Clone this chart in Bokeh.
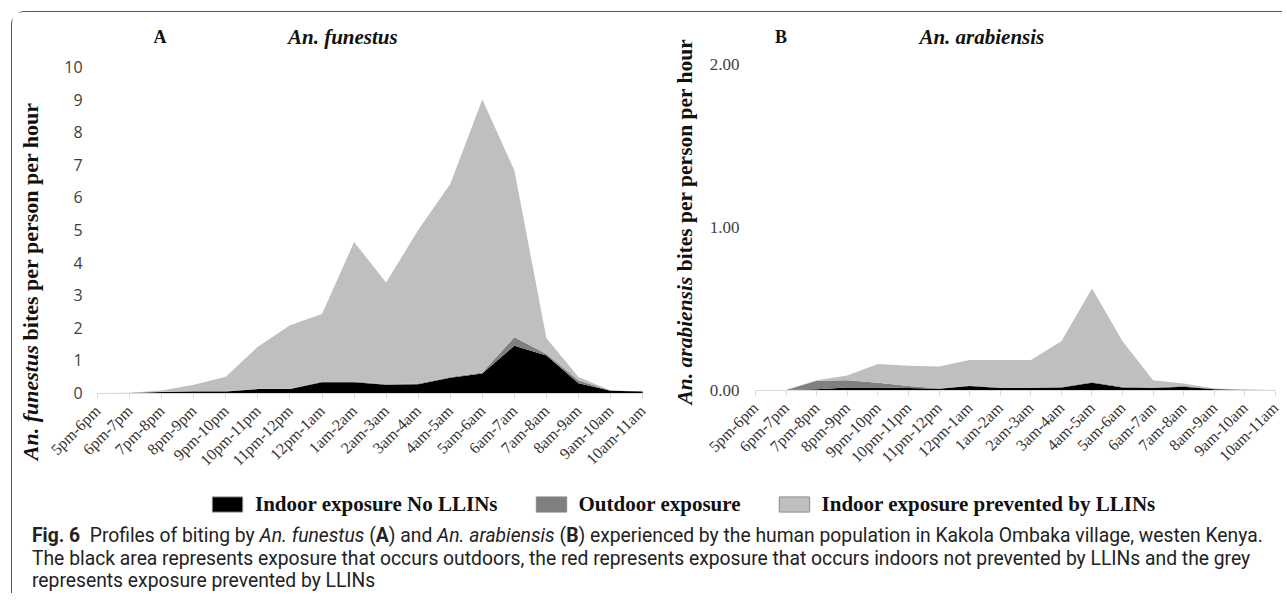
import math
from bokeh.plotting import figure
from bokeh.models import (ColumnDataSource, Range1d, FixedTicker, Legend, LegendItem, Div)
from bokeh.core.properties import value
from bokeh.layouts import row, column
from bokeh.embed import file_html
from bokeh.resources import INLINE

# ---------------- data ----------------
hours = ["5pm-6pm", "6pm-7pm", "7pm-8pm", "8pm-9pm", "9pm-10pm", "10pm-11pm",
         "11pm-12pm", "12pm-1am", "1am-2am", "2am-3am", "3am-4am", "4am-5am",
         "5am-6am", "6am-7am", "7am-8am", "8am-9am", "9am-10am", "10am-11am"]

series_names = ["Indoor exposure No LLINs", "Outdoor exposure",
                "Indoor exposure prevented by LLINs"]
series_colors = ["#000000", "#7f7f7f", "#bfbfbf"]

# An. funestus (panel A), bites per person per hour
funestus_indoor_no_llin = [0, 0, 0.03, 0.05, 0.05, 0.12, 0.12, 0.33, 0.33, 0.25,
                           0.27, 0.47, 0.60, 1.45, 1.15, 0.30, 0.07, 0.05]
funestus_outdoor = [0, 0, 0.01, 0.01, 0.01, 0.01, 0.01, 0.02, 0.02, 0.02,
                    0.02, 0.02, 0.03, 0.26, 0.05, 0.08, 0.01, 0.0]
funestus_prevented = [0, 0.01, 0.04, 0.19, 0.44, 1.29, 1.95, 2.07, 4.28, 3.12,
                      4.71, 5.92, 8.37, 5.12, 0.48, 0.11, 0.0, 0.0]

# An. arabiensis (panel B), bites per person per hour
arabiensis_indoor_no_llin = [0, 0, 0.005, 0.015, 0.015, 0.012, 0.008, 0.025, 0.012,
                             0.012, 0.015, 0.045, 0.015, 0.012, 0.02, 0.005, 0, 0]
arabiensis_outdoor = [0, 0, 0.052, 0.045, 0.03, 0.013, 0.002, 0.003, 0.003,
                      0.003, 0.003, 0.005, 0.005, 0.003, 0.005, 0.003, 0, 0]
arabiensis_prevented = [0, 0, 0.003, 0.03, 0.115, 0.125, 0.135, 0.157, 0.17,
                        0.17, 0.282, 0.575, 0.28, 0.045, 0.015, 0.002, 0.004, 0]

funestus_ticks = [0, 1, 2, 3, 4, 5, 6, 7, 8, 9, 10]
arabiensis_ticks = [0.0, 1.0, 2.0]
arabiensis_tick_labels = ["0.00", "1.00", "2.00"]

SERIF = "Liberation Serif"
AXIS_GREY = "#d9d9d9"
TEXT_DARK = "#333333"
TITLE_COL = "#111111"
H = 476  # height of the chart row


def base_fig(width, xr, yr, ymax_tick):
    # the frame covers the whole figure; axes are pinned at x=0 / y=0 inside it
    p = figure(width=width, height=H, output_backend="svg", toolbar_location=None,
               x_range=Range1d(*xr), y_range=Range1d(*yr), min_border=0)
    p.outline_line_color = None
    p.grid.visible = False
    p.background_fill_color = "white"
    p.border_fill_color = "white"
    ax = p.xaxis[0]
    ax.fixed_location = 0
    ax.bounds = (0, len(hours) - 1)
    ax.ticker = FixedTicker(ticks=list(range(len(hours))))
    ax.major_label_overrides = {i: h for i, h in enumerate(hours)}
    ax.major_label_orientation = math.pi / 4
    ax.axis_line_color = AXIS_GREY
    ax.major_tick_line_color = AXIS_GREY
    ax.major_tick_out = 5
    ax.major_tick_in = 0
    ax.minor_tick_line_color = None
    ax.major_label_text_font = SERIF
    ax.major_label_text_font_size = "16px"
    ax.major_label_text_color = TEXT_DARK
    ax.major_label_standoff = 10
    ay = p.yaxis[0]
    ay.fixed_location = 0
    ay.bounds = (0, ymax_tick)
    ay.axis_line_color = None
    ay.major_tick_line_color = None
    ay.minor_tick_line_color = None
    ay.major_tick_out = 0
    ay.major_tick_in = 0
    return p


def add_stack(p, a, b, c):
    src = ColumnDataSource(dict(x=list(range(len(hours))), s0=a, s1=b, s2=c))
    p.varea_stack(stackers=["s0", "s1", "s2"], x="x", color=series_colors, source=src)


def add_titles(p, xl, xt, y, letter, species):
    p.text(x=[xl], y=[y], text=[letter], text_align="center", text_baseline="middle",
           text_font=value(SERIF), text_font_size="18px", text_font_style=value("bold"),
           text_color=TITLE_COL)
    p.text(x=[xt], y=[y], text=[species], text_align="center", text_baseline="middle",
           text_font=value(SERIF), text_font_size="21px", text_font_style=value("bold italic"),
           text_color=TITLE_COL)


def add_ytitle(p, xc, y_species, y_rest, species, size):
    p.text(x=[xc], y=[y_species], text=[species], angle=math.pi / 2, text_align="center",
           text_baseline="middle", text_font=value(SERIF), text_font_size=size,
           text_font_style=value("bold italic"), text_color=TITLE_COL)
    p.text(x=[xc], y=[y_rest], text=["bites per person per hour"], angle=math.pi / 2,
           text_align="center", text_baseline="middle", text_font=value(SERIF),
           text_font_size=size, text_font_style=value("bold"), text_color=TITLE_COL)


# ---------------- panel A ----------------
pA = base_fig(648, (-2.654, 17.558), (-2.929, 11.672), 10)
pA.yaxis[0].ticker = FixedTicker(ticks=funestus_ticks)
pA.yaxis[0].major_label_text_font = "Open Sans"
pA.yaxis[0].major_label_text_font_size = "16px"
pA.yaxis[0].major_label_text_color = "#404040"
pA.yaxis[0].major_label_standoff = 15
add_stack(pA, funestus_indoor_no_llin, funestus_outdoor, funestus_prevented)
add_titles(pA, 1.95, 7.65, 10.92, "A", "An. funestus")
add_ytitle(pA, -2.108, -0.298, 5.268, "An. funestus", "22px")

# ---------------- panel B ----------------
pB = base_fig(622, (-3.106, 17.229), (-0.606, 2.323), 2)
pB.yaxis[0].ticker = FixedTicker(ticks=arabiensis_ticks)
pB.yaxis[0].major_label_overrides = {v: s for v, s in zip(arabiensis_ticks, arabiensis_tick_labels)}
pB.yaxis[0].major_label_text_font = SERIF
pB.yaxis[0].major_label_text_font_size = "17px"
pB.yaxis[0].major_label_text_color = "#404040"
pB.yaxis[0].major_label_standoff = 16
add_stack(pB, arabiensis_indoor_no_llin, arabiensis_outdoor, arabiensis_prevented)
add_titles(pB, 0.83, 7.40, 2.172, "B", "An. arabiensis")
add_ytitle(pB, -2.305, 0.304, 1.447, "An. arabiensis", "21.5px")

# ---------------- legend ----------------
pL = figure(width=1270, height=32, output_backend="svg", toolbar_location=None,
            x_range=Range1d(0, 1), y_range=Range1d(0, 1), min_border=0)
pL.axis.visible = False
pL.grid.visible = False
pL.outline_line_color = None
items = []
for name, col in zip(series_names, series_colors):
    # legend swatch proxy, placed outside the visible range of this strip
    r = pL.rect(x=[-5], y=[-5], width=0.1, height=0.1, fill_color=col,
                line_color="#8c8c8c", line_width=1)
    items.append(LegendItem(label=name, renderers=[r]))
leg = Legend(items=items, orientation="horizontal", location="center_left",
             label_text_font=SERIF, label_text_font_size="21px", label_text_font_style="bold",
             label_text_color=TITLE_COL, glyph_width=38, glyph_height=19, spacing=34,
             label_standoff=9, border_line_color=None, background_fill_alpha=0,
             padding=0, margin=196)
pL.add_layout(leg, "center")

# ---------------- caption ----------------
caption = Div(
    text=("<b>Fig. 6</b>&nbsp; Profiles of biting by <i>An. funestus</i> (<b>A</b>) and "
          "<i>An. arabiensis</i> (<b>B</b>) experienced by the human population in Kakola "
          "Ombaka village, westen Kenya.<br>"
          "The black area represents exposure that occurs outdoors, the red represents exposure "
          "that occurs indoors not prevented by LLINs and the grey<br>"
          "represents exposure prevented by LLINs"),
    width=1245, margin=(5, 0, 0, 20),
    styles={"font-family": "'Roboto', 'Open Sans', sans-serif",
            "font-size": "19.3px", "line-height": "22.5px", "color": "#222",
            "white-space": "nowrap"})

layout = column(row(pA, pB), pL, caption, margin=(11, 0, 0, 11),
                styles={"border-top": "1.5px solid #555", "border-left": "1.5px solid #555",
                        "border-top-left-radius": "14px", "background": "white"})

open("out.html", "w").write(file_html(layout, INLINE))
